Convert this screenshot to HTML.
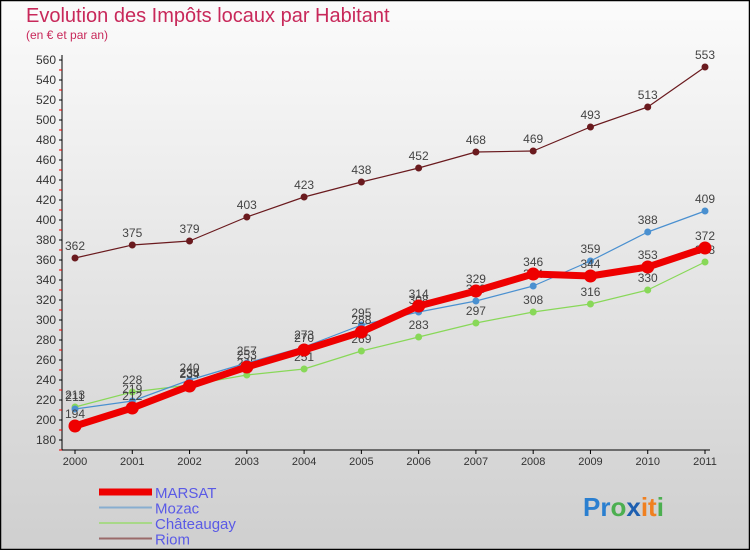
<!DOCTYPE html>
<html><head><meta charset="utf-8"><style>
body{margin:0}
#wrap{width:750px;height:550px;position:relative;overflow:hidden;font-family:"Liberation Sans",sans-serif}
</style></head><body>
<div id="wrap">
<svg id="svg" width="750" height="550" xmlns="http://www.w3.org/2000/svg">
<defs><linearGradient id="bg" x1="0" y1="0" x2="0" y2="1"><stop offset="0" stop-color="#fbfbfb"/><stop offset="1" stop-color="#cfcfcf"/></linearGradient></defs>
<rect x="0.5" y="0.5" width="749" height="549" fill="url(#bg)" stroke="#000" stroke-width="1.5"/>
<text x="26" y="22" font-size="20" fill="#c8285a">Evolution des Impôts locaux par Habitant</text>
<text x="26" y="39" font-size="12" fill="#c8285a">(en € et par an)</text>
<g id="axes"></g><g id="series"></g><g id="legend"></g>
<text x="583" y="516" font-size="26" font-weight="bold"><tspan fill="#2a7fd0">Pr</tspan><tspan fill="#4caf50">o</tspan><tspan fill="#1e5fb0">x</tspan><tspan fill="#f08020">it</tspan><tspan fill="#4caf50">i</tspan></text>
</svg>
</div>
<script>
const years=[2000,2001,2002,2003,2004,2005,2006,2007,2008,2009,2010,2011];
const yTicks=[180,200,220,240,260,280,300,320,340,360,380,400,420,440,460,480,500,520,540,560];
const marsat=[194,212,234,253,270,288,314,329,346,344,353,372];
const mozac=[211,219,240,257,273,295,308,319,334,359,388,409];
const chateaugay=[213,228,235,245,251,269,283,297,308,316,330,358];
const riom=[362,375,379,403,423,438,452,468,469,493,513,553];
const seriesNames=["MARSAT","Mozac","Châteaugay","Riom"];
const NS="http://www.w3.org/2000/svg";
function xs(i){return 75+i*(705-75)/(years.length-1);}
function ys(v){return 440-(v-180)*(380/380);}
function mk(tag,attrs,parent){const e=document.createElementNS(NS,tag);for(const k in attrs)e.setAttribute(k,attrs[k]);parent.appendChild(e);return e;}
const axes=document.getElementById('axes');
let yl=mk('line',{x1:62,y1:55,x2:62,y2:450,stroke:'#000'},axes);


let xl=mk('line',{x1:62,y1:450,x2:710,y2:450,stroke:'#000'},axes);


yTicks.forEach(v=>{
 const y=ys(v);
 mk('line',{x1:59,y1:y,x2:62,y2:y,stroke:'#000'},axes);
 mk('line',{x1:59,y1:y+10,x2:62,y2:y+10,stroke:'#e00'},axes);
 const t=mk('text',{x:56,y:y+4,'font-size':12,fill:'#333','text-anchor':'end'},axes);
 t.textContent=v;
 
 
});
years.forEach((yr,i)=>{
 const x=xs(i);
 mk('line',{x1:x,y1:450,x2:x,y2:454,stroke:'#000'},axes);
 const t=mk('text',{x:x,y:465,'font-size':11,fill:'#333','text-anchor':'middle'},axes);
 t.textContent=yr;
 
 
});
const sg=document.getElementById('series');
function draw(data,color,w,r,name){
 const g=mk('g',{},sg);
 
 
 const p=mk('polyline',{points:data.map((v,i)=>xs(i)+','+ys(v)).join(' '),fill:'none',stroke:color,'stroke-width':w,'stroke-linejoin':'round'},g);
 
 
 data.forEach((v,i)=>{
  const c=mk('circle',{cx:xs(i),cy:ys(v),r:r,fill:color},g);
  
  
  const t=mk('text',{x:xs(i),y:ys(v)-8,'font-size':12,fill:'#444','text-anchor':'middle'},g);
  t.textContent=v;
  
  
 });
}
draw(riom,'#6a1a1e',1.2,3.5,'riom');
draw(chateaugay,'#88d858',1.2,3.5,'chateaugay');
draw(mozac,'#4a90d0',1.2,3.5,'mozac');
draw(marsat,'#ee0000',7,6.5,'marsat');
const lg=document.getElementById('legend');
const lcol=['#ee0000','#88aed0','#a8d888','#9a6a6a'];
const lw=[7,2,2,2];
seriesNames.forEach((n,i)=>{
 const y=492+i*15.5;
 const l=mk('line',{x1:99,y1:y,x2:152,y2:y,stroke:lcol[i],'stroke-width':lw[i]},lg);
 
 
 const t=mk('text',{x:155,y:y+6,'font-size':15,fill:'#5a5ae6'},lg);
 t.textContent=n;
 
 
});
</script>
</body></html>
